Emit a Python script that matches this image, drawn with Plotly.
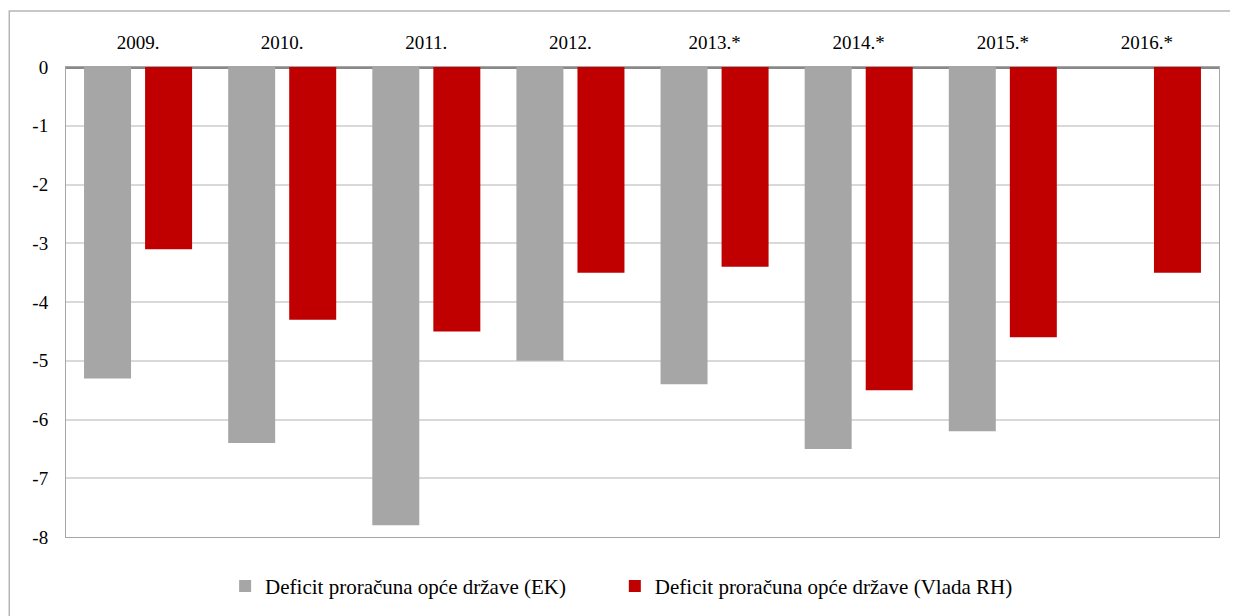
import plotly.graph_objects as go

GRAY = "#a6a6a6"
RED = "#c00000"
FONT = "Liberation Serif"

years = ["2009.", "2010.", "2011.", "2012.", "2013.*", "2014.*", "2015.*", "2016.*"]
deficit_ek = [-5.3, -6.4, -7.8, -5.0, -5.4, -6.5, -6.2, None]
deficit_vlada = [-3.1, -4.3, -4.5, -3.5, -3.4, -5.5, -4.6, -3.5]
y_ticks = [0, -1, -2, -3, -4, -5, -6, -7, -8]

fig = go.Figure()

fig.add_trace(go.Bar(
    x=years, y=deficit_ek,
    name="Deficit proračuna opće države (EK)",
    marker=dict(color=GRAY, line=dict(width=0)),
    legend="legend",
    showlegend=True,
))
fig.add_trace(go.Bar(
    x=years, y=deficit_vlada,
    name="Deficit proračuna opće države (Vlada RH)",
    marker=dict(color=RED, line=dict(width=0)),
    legend="legend2",
    showlegend=True,
))

# outer chart frame (runs off the right and bottom of the page)
fig.add_shape(
    type="rect", xref="paper", yref="paper",
    x0=-0.0492, x1=1.05, y0=-0.3, y1=1.119,
    line=dict(color="#b5b5b5", width=1.5), fillcolor="rgba(0,0,0,0)",
    layer="below",
)

legend_style = dict(
    orientation="h",
    xanchor="left",
    y=-0.105, yanchor="middle",
    font=dict(family=FONT, size=21),
    itemwidth=30,
    bgcolor="rgba(0,0,0,0)",
)

fig.update_layout(
    showlegend=True,
    barmode="group",
    bargap=0.153,
    bargroupgap=0.23,
    font=dict(family=FONT, size=19, color="#000000"),
    xaxis=dict(
        side="top",
        showgrid=False,
        ticks="",
        showline=True,
        linecolor="#a6a6a6",
        mirror=True,
        automargin=False,
        ticklabelstandoff=9,
        tickfont=dict(family=FONT, size=19),
    ),
    yaxis=dict(
        range=[-8, 0],
        tickvals=y_ticks,
        ticktext=[str(v) for v in y_ticks],
        gridcolor="#d9d9d9",
        gridwidth=1.5,
        zeroline=True,
        zerolinecolor="#898989",
        zerolinewidth=2.5,
        showline=True,
        linecolor="#a6a6a6",
        mirror=True,
        ticks="",
        automargin=False,
        ticklabelstandoff=13,
        tickfont=dict(family=FONT, size=19),
    ),
    legend=dict(x=0.138, **legend_style),
    legend2=dict(x=0.476, **legend_style),
    plot_bgcolor="white",
    paper_bgcolor="white",
    margin=dict(l=58, r=27, t=59, b=87),
    width=1238,
    height=616,
)

fig.write_html("out.html")
